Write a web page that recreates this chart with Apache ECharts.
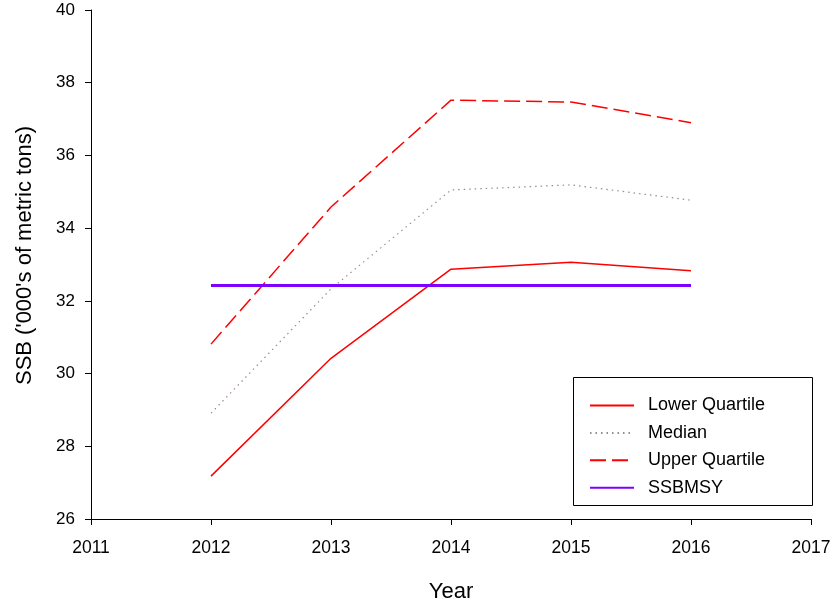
<!DOCTYPE html>
<html>
<head>
<meta charset="utf-8">
<script src="https://cdn.jsdelivr.net/npm/echarts@6/dist/echarts.min.js"></script>
<style>
  html, body { margin: 0; padding: 0; background: #fff; }
  #chart { width: 834px; height: 609px; }
</style>
</head>
<body>
<div id="chart"></div>
<script>
// Projected spawning stock biomass by year
const years = [2012, 2013, 2014, 2015, 2016];
const lowerQuartile = [27.18, 30.42, 32.87, 33.06, 32.83];
const median = [28.91, 32.33, 35.05, 35.19, 34.77];
const upperQuartile = [30.81, 34.58, 37.52, 37.47, 36.90];
const ssbMsy = [32.42, 32.42, 32.42, 32.42, 32.42];
const yTicks = [26, 28, 30, 32, 34, 36, 38, 40];
const xTicks = [2011, 2012, 2013, 2014, 2015, 2016, 2017];

const FONT = '"Liberation Sans", Arial, sans-serif';
const pairs = (vals) => years.map((y, i) => [y, vals[i]]);

const chart = echarts.init(document.getElementById('chart'), null, { renderer: 'canvas' });

chart.setOption({
  animation: false,
  backgroundColor: '#ffffff',
  textStyle: { fontFamily: FONT },
  grid: { left: 91, right: 23, top: 10, bottom: 90, containLabel: false },
  xAxis: {
    type: 'value',
    min: xTicks[0],
    max: xTicks[xTicks.length - 1],
    interval: 1,
    name: 'Year',
    nameLocation: 'middle',
    nameGap: 62,
    nameTextStyle: { fontSize: 22, color: '#000', fontFamily: FONT },
    axisLine: { show: true, onZero: false, lineStyle: { color: '#000', width: 1 } },
    axisTick: { show: true, inside: false, length: 6, lineStyle: { color: '#000' } },
    axisLabel: { color: '#000', fontSize: 17.5, margin: 20, fontFamily: FONT, formatter: (v) => String(v) },
    splitLine: { show: false }
  },
  yAxis: {
    type: 'value',
    min: yTicks[0],
    max: yTicks[yTicks.length - 1],
    interval: 2,
    name: "SSB ('000's of metric tons)",
    nameLocation: 'middle',
    nameGap: 55,
    nameTextStyle: { fontSize: 22, color: '#000', fontFamily: FONT, padding: [0, 0, 0, 18] },
    axisLine: { show: true, onZero: false, lineStyle: { color: '#000', width: 1 } },
    axisTick: { show: true, inside: false, length: 6, lineStyle: { color: '#000' } },
    axisLabel: { color: '#000', fontSize: 17, margin: 16, fontFamily: FONT },
    splitLine: { show: false }
  },
  legend: {
    orient: 'vertical',
    left: 589,
    top: 396.5,
    itemWidth: 44,
    itemHeight: 14,
    itemGap: 9.4,
    padding: 0,
    itemStyle: { opacity: 0 },
    textStyle: { fontSize: 18, color: '#000', fontFamily: FONT, padding: [0, 0, 0, 9] },
    data: ['Lower Quartile', 'Median', 'Upper Quartile', 'SSBMSY']
  },
  graphic: [{
    type: 'rect',
    shape: { x: 573.5, y: 377.5, width: 239, height: 128 },
    style: { fill: 'none', stroke: '#000', lineWidth: 1 },
    z: 10
  }],
  series: [
    {
      name: 'Lower Quartile',
      type: 'line',
      data: pairs(lowerQuartile),
      symbol: 'none',
      lineStyle: { color: '#ff0000', width: 1.5, type: 'solid' },
      itemStyle: { color: '#ff0000' }
    },
    {
      name: 'Median',
      type: 'line',
      data: pairs(median),
      symbol: 'none',
      lineStyle: { color: '#9a8a8a', width: 1.2, type: [1.5, 4] },
      itemStyle: { color: '#9a8a8a' }
    },
    {
      name: 'Upper Quartile',
      type: 'line',
      data: pairs(upperQuartile),
      symbol: 'none',
      lineStyle: { color: '#ff0000', width: 1.5, type: [16, 6] },
      itemStyle: { color: '#ff0000' }
    },
    {
      name: 'SSBMSY',
      type: 'line',
      data: pairs(ssbMsy),
      symbol: 'none',
      lineStyle: { color: '#8000ff', width: 3, type: 'solid' },
      itemStyle: { color: '#8000ff' }
    }
  ]
});
</script>
</body>
</html>
